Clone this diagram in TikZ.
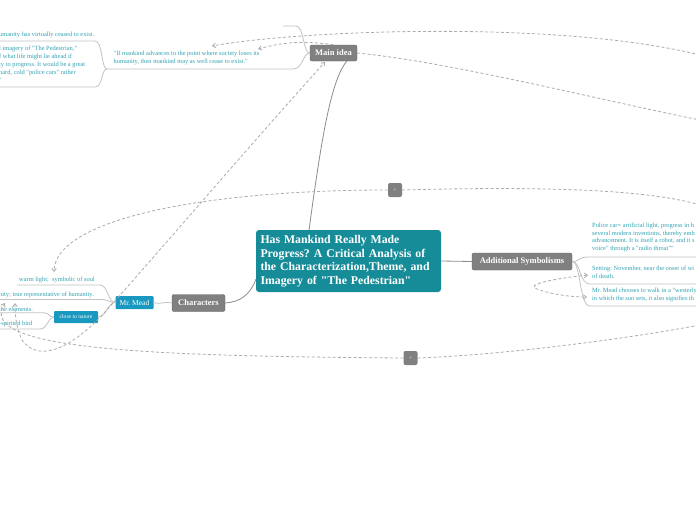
\documentclass[tikz,border=0pt]{standalone}
\usepackage{fontspec}
\setmainfont{Liberation Serif}
\newfontfamily\rs{Liberation Serif}
\usetikzlibrary{arrows.meta}
\definecolor{tealc}{RGB}{22,140,152}
\definecolor{bluec}{RGB}{26,153,192}
\definecolor{greyc}{RGB}{128,128,128}
\definecolor{txtc}{RGB}{48,163,178}
\definecolor{lnkc}{RGB}{195,195,195}
\definecolor{connc}{RGB}{140,140,140}
\definecolor{dashc}{RGB}{172,172,172}
\begin{document}
\frenchspacing
\begin{tikzpicture}[x=1pt,y=-1pt,
  topicbox/.style={fill=greyc, draw=greyc!80!black, line width=0.4pt, rounded corners=2pt, text=white, inner sep=0pt, font=\rs\bfseries\fontsize{8.5}{9}\selectfont},
  rootbox/.style={fill=tealc, rounded corners=3pt, text=white, inner sep=0pt, align=left, font=\rs\bfseries\fontsize{11.8}{13.5}\selectfont},
  subbox/.style={fill=bluec, rounded corners=1pt, text=white, inner sep=0pt},
  plusbox/.style={fill=greyc, rounded corners=2pt, text=white, inner sep=0pt, minimum width=14pt, minimum height=14pt, font=\rs\fontsize{5}{5}\selectfont},
  leaf/.style={text=txtc, inner sep=0pt, align=left, font=\rs\fontsize{6.4}{8.5}\selectfont},
  branch/.style={draw=lnkc, line width=0.8pt},
  mainconn/.style={draw=connc, line width=0.8pt},
  rel/.style={draw=dashc, line width=0.8pt, dash pattern=on 3pt off 2.2pt},
  tip/.style={-{Straight Barb[length=3pt,width=4.5pt]}},
  bitip/.style={{Straight Barb[length=3pt,width=4.5pt]}-{Straight Barb[length=3pt,width=4.5pt]}}
]
\useasboundingbox (0,0) rectangle (696,520);
\fill[white] (0,0) rectangle (696,520);

% ---------- main nodes ----------
\node[rootbox, minimum width=185pt, minimum height=62pt, text width=176pt] (root) at (348.5,261) {Has Mankind Really Made\\Progress? A Critical Analysis of\\the Characterization,Theme, and\\Imagery of "The Pedestrian"};
\node[topicbox, minimum width=47pt, minimum height=16pt] (mi) at (333.5,53) {Main idea};
\node[topicbox, minimum width=53pt, minimum height=17pt] (ch) at (198.5,303) {Characters};
\node[topicbox, minimum width=100pt, minimum height=17pt] (as) at (522,261.5) {Additional Symbolisms};
\node[subbox, minimum width=38pt, minimum height=13pt, font=\rs\fontsize{7.5}{8}\selectfont] (mm) at (134.5,302.5) {Mr. Mead};
\node[subbox, minimum width=44pt, minimum height=12pt, font=\rs\fontsize{5.6}{6}\selectfont] (cn) at (76,317) {close to nature};
\node[plusbox] (p1) at (395,190) {+};
\node[plusbox] (p2) at (410.5,358) {+};

% ---------- leaf texts ----------
\node[leaf, anchor=north west] (ifm) at (113.5,50.3) {"If mankind advances to the point where society loses its\\humanity, then mankind may as well cease to exist."};
\node[leaf, anchor=west] (hum) at (-1,34.5) {umanity has virtually ceased to exist.};
\node[leaf, anchor=north west, font=\rs\fontsize{6.4}{8.1}\selectfont] (blk) at (-1,45.5) {l imagery of "The Pedestrian,"\\f what life might lie ahead if\\ty to progress. It would be a great\\hard, cold "police cars" rather\\"};
\node[leaf, anchor=west] (warm) at (19,280) {warm light;\ \ symbolic of soul};
\node[leaf, anchor=west] (nity) at (-1,294.5) {nity; true representative of humanity.};
\node[leaf, anchor=west] (elem) at (-1,309.5) {the elements.};
\node[leaf, anchor=west] (bird) at (-1,323.5) {-spirited bird};
\node[leaf, anchor=north west, font=\rs\fontsize{6.4}{7.6}\selectfont] (pol) at (592,222.8) {Police car= artificial light, progress in h\\several modern inventions, thereby emb\\advancement. It is itself a robot, and it s\\voice" through a "radio throat""};
\node[leaf, anchor=north west, font=\rs\fontsize{6.4}{7.6}\selectfont] (set) at (592,265.8) {Setting: November, near the onset of wi\\of death.};
\node[leaf, anchor=north west, font=\rs\fontsize{6.4}{7.6}\selectfont] (wst) at (592,287.8) {Mr. Mead chooses to walk in a "westerly\\in which the sun sets, it also signifies th};

% ---------- structural connectors ----------
\coordinate (rootTop) at (309,230);
\coordinate (miBot) at (347,61);
\draw[mainconn] (rootTop) .. controls (320,150) and (330,80) .. (miBot);
\coordinate (rootBL) at (256,279);
\draw[mainconn] (rootBL) .. controls (250,295) and (240,302) .. (ch.east);
\draw[mainconn] (root.east) -- (as.west);
\draw[branch] (ch.west) .. controls (162,301) and (162,305) .. (mm.east);

\coordinate (miL) at (mi.west);
\draw[branch] (miL) .. controls (303,53) and (303,69) .. (293,69) -- (107,69);
\draw[branch] (miL) .. controls (303,53) and (304,26) .. (296,26) -- (283,26);
\coordinate (ifmL) at (107,69);
\draw[branch] (ifmL) .. controls (101,69) and (103,41) .. (95,41) -- (-5,41);
\draw[branch] (ifmL) .. controls (101,69) and (103,87) .. (95,87) -- (-5,87);

\draw[branch] (mm.west) .. controls (108,302.5) and (108,285) .. (100,285) -- (17,285);
\draw[branch] (mm.west) .. controls (109,302.5) and (109,299.5) .. (100,299.5) -- (-5,299.5);
\draw[branch] (mm.west) .. controls (108,302.5) and (106,317) .. (cn.east);
\draw[branch] (cn.west) .. controls (48,317) and (50,312.8) .. (44,312.8) -- (-5,312.8);
\draw[branch] (cn.west) .. controls (48,317) and (48,329) .. (40,329) -- (-5,329);

\draw[branch] (as.east) .. controls (580,261.5) and (578,257) .. (588,257) -- (700,257);
\draw[branch] (as.east) .. controls (581,261.5) and (579,284) .. (590,284) -- (700,284);
\draw[branch] (as.east) .. controls (581,261.5) and (579,306) .. (590,306) -- (700,306);

% ---------- dashed relationships ----------
\draw[rel] (mi.east) .. controls (450,62) and (600,100) .. (700,120);
\draw[rel, tip] (700,55) .. controls (560,20) and (300,30) .. (212,46);
\draw[rel, tip] (mi.north) .. controls (300,40) and (280,43) .. (258,49);
\draw[rel, tip] (p1.west) .. controls (200,190) and (55,220) .. (54,272);
\draw[rel] (p1.east) .. controls (550,186) and (650,190) .. (700,205);
\draw[rel, tip] (p2.west) .. controls (150,356) and (-25,350) .. (5,303);
\draw[rel] (p2.east) .. controls (500,355) and (620,340) .. (700,325);
\draw[rel, bitip] (15,303) .. controls (15,318) and (17,330) .. (22,340) .. controls (40,365) and (75,345) .. (105,312) .. controls (150,262) and (250,145) .. (325,62);
\draw[rel, bitip] (588,275) .. controls (550,279) and (525,285) .. (537,289) .. controls (550,294) and (570,297) .. (587,297);
\end{tikzpicture}
\end{document}
